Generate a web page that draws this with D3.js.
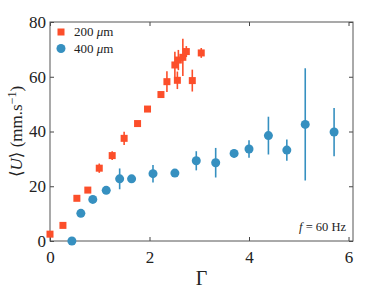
<!DOCTYPE html>
<html>
<head>
<meta charset="utf-8">
<script src="https://cdn.jsdelivr.net/npm/d3@7"></script>
<style>
  body { margin: 0; background: #fff; }
  text { font-family: "Liberation Serif", "DejaVu Serif", serif; fill: #222; }
</style>
</head>
<body>
<svg width="390" height="293"></svg>
<script>
var svg = d3.select('svg');
var w = 390, h = 293;
var m = { l: 50, r: 37, t: 22, b: 52 };

// 200 um grains
var redX   = [0, 0.26, 0.54, 0.76, 0.99, 1.25, 1.49, 1.76, 1.96, 2.23, 2.35, 2.51, 2.56, 2.58, 2.67, 2.74, 2.86, 3.04];
var redY   = [2.5, 5.7, 15.6, 18.6, 26.6, 31.2, 37.5, 42.9, 48.2, 53.5, 58.2, 64.3, 58.7, 66.1, 67.1, 69.2, 58.6, 68.7];
var redErr = [0.5, 0.5, 0.6, 1.0, 1.7, 1.6, 2.4, 0.8, 0.8, 0.8, 3.8, 4.8, 3.2, 3.7, 6.8, 2.0, 4.0, 1.8];

// 400 um grains
var blueX   = [0.44, 0.62, 0.86, 1.13, 1.40, 1.64, 2.07, 2.51, 2.94, 3.33, 3.70, 4.00, 4.39, 4.76, 5.13, 5.71];
var blueY   = [0, 10.1, 15.2, 18.5, 22.7, 22.7, 24.6, 24.8, 29.3, 28.6, 32.0, 33.6, 38.5, 33.2, 42.6, 39.8];
var blueErr = [0.3, 0.5, 0.6, 0.6, 3.8, 0.7, 3.2, 0.6, 3.5, 5.4, 1.5, 3.2, 6.9, 3.9, 20.5, 8.8];

var xTicks = [0, 2, 4, 6];
var yTicks = [0, 20, 40, 60, 80];

var red = '#fc4e2a', blue = '#3690c0';

var x = d3.scaleLinear().domain([0, 6.09]).range([m.l, w - m.r]);
var y = d3.scaleLinear().domain([0, 80]).range([h - m.b, m.t]);

function zip(a, b, e) { return a.map(function(v, i) { return { x: v, y: b[i], e: e[i] } }) }
var red200 = zip(redX, redY, redErr);
var blue400 = zip(blueX, blueY, blueErr);

// frame with inward ticks on every side
function styleAxis(g) {
  g.select('.domain').remove();
  g.selectAll('.tick line').attr('stroke', '#444');
  g.selectAll('.tick text').style('font-size', '17px').attr('fill', '#222');
}
var fmt = d3.format('d');
svg.append('g').attr('transform', 'translate(0,' + (h - m.b) + ')')
  .call(d3.axisBottom(x).tickValues(xTicks).tickSize(-4).tickPadding(10).tickFormat(fmt)).call(styleAxis);
svg.append('g').attr('transform', 'translate(' + m.l + ',0)')
  .call(d3.axisLeft(y).tickValues(yTicks).tickSize(-4).tickPadding(4).tickFormat(fmt)).call(styleAxis);
svg.append('g').attr('transform', 'translate(0,' + m.t + ')')
  .call(d3.axisTop(x).tickValues(xTicks).tickSize(-4).tickFormat('')).call(styleAxis);
svg.append('g').attr('transform', 'translate(' + (w - m.r) + ',0)')
  .call(d3.axisRight(y).tickValues(yTicks).tickSize(-4).tickFormat('')).call(styleAxis);
svg.append('rect').attr('x', m.l).attr('y', m.t)
  .attr('width', w - m.r - m.l).attr('height', h - m.b - m.t)
  .attr('fill', 'none').attr('stroke', '#555').attr('stroke-width', 1);

// error bars
function bars(data, col) {
  svg.append('g').selectAll('line').data(data).enter().append('line')
    .attr('x1', function(d) { return x(d.x) }).attr('x2', function(d) { return x(d.x) })
    .attr('y1', function(d) { return y(d.y - d.e) }).attr('y2', function(d) { return y(d.y + d.e) })
    .attr('stroke', col).attr('stroke-width', 1.6);
}
bars(red200, red);
bars(blue400, blue);

svg.append('g').selectAll('rect').data(red200).enter().append('rect')
  .attr('x', function(d) { return x(d.x) - 3.5 }).attr('y', function(d) { return y(d.y) - 3.5 })
  .attr('width', 7).attr('height', 7).attr('fill', red);

svg.append('g').selectAll('circle').data(blue400).enter().append('circle')
  .attr('cx', function(d) { return x(d.x) }).attr('cy', function(d) { return y(d.y) })
  .attr('r', 4.5).attr('fill', blue);

// legend
var lg = svg.append('g');
lg.append('rect').attr('x', 57.5).attr('y', 28.5).attr('width', 7).attr('height', 7).attr('fill', red);
lg.append('circle').attr('cx', 61).attr('cy', 48.5).attr('r', 4.5).attr('fill', blue);
[['200 ', 36], ['400 ', 53]].forEach(function(r) {
  var t = lg.append('text').attr('x', 74).attr('y', r[1]).style('font-size', '13px');
  t.append('tspan').text(r[0]);
  t.append('tspan').style('font-style', 'italic').text('μ');
  t.append('tspan').text('m');
});

// annotation
var an = svg.append('text').attr('x', 346).attr('y', 231).attr('text-anchor', 'end').style('font-size', '12.5px');
an.append('tspan').style('font-style', 'italic').text('f');
an.append('tspan').text(' = 60 Hz');

// axis labels
svg.append('text').attr('x', (m.l + w - m.r) / 2).attr('y', 285).attr('text-anchor', 'middle')
  .style('font-size', '20px').text('Γ');

var yl = svg.append('text').attr('transform', 'translate(22,' + ((m.t + h - m.b) / 2) + ') rotate(-90)')
  .attr('text-anchor', 'middle').style('font-size', '17px');
yl.append('tspan').text('⟨');
yl.append('tspan').style('font-style', 'italic').text('U');
yl.append('tspan').text('⟩ (mm.s');
yl.append('tspan').attr('dy', -6).style('font-size', '12px').text('−1');
yl.append('tspan').attr('dy', 6).text(')');
</script>
</body>
</html>
